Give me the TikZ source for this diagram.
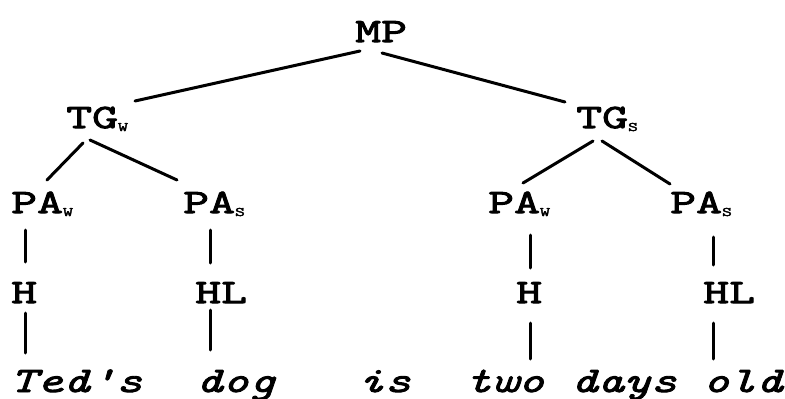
\documentclass[tikz,border=0pt]{standalone}
\usepackage{fontspec}
\newfontfamily\labfont[FakeStretch=1.48,FakeBold=3]{Latin Modern Mono}
\newfontfamily\wrdfont[FakeStretch=1.40,FakeBold=2.5]{Latin Modern Mono}
\newcommand{\subW}{\raisebox{-3pt}{\fontsize{13}{13}\selectfont W}}
\newcommand{\subS}{\raisebox{-3pt}{\fontsize{13}{13}\selectfont S}}
\tikzset{
  lab/.style={anchor=base west, inner sep=0pt, font=\labfont\fontsize{34}{34}\selectfont},
  wrd/.style={anchor=base west, inner sep=0pt, font=\wrdfont\itshape\fontsize{36}{36}\selectfont},
  edge/.style={line width=3pt, line cap=round}
}
\begin{document}
\begin{tikzpicture}[x=1pt,y=-1pt]
\useasboundingbox (0,0) rectangle (785,399);
% labels
\node[lab] (MP)   at (355,42)  {MP};
\node[lab] (TGw)  at (66,128)  {TG\subW};
\node[lab] (TGs)  at (576,128) {TG\subS};
\node[lab] (PAw1) at (11,213)  {PA\subW};
\node[lab] (PAs1) at (183,213) {PA\subS};
\node[lab] (PAw2) at (488,213) {PA\subW};
\node[lab] (PAs2) at (670,213) {PA\subS};
\node[lab] (H1)   at (11,303)  {H};
\node[lab] (HL1)  at (195,303) {HL};
\node[lab] (H2)   at (516,303) {H};
\node[lab] (HL2)  at (703,303) {HL};
% words
\node[wrd] (w1) at (10,392)  {Ted's};
\node[wrd] (w2) at (196,392) {dog};
\node[wrd] (w3) at (358,392) {is};
\node[wrd] (w4) at (465,392) {two};
\node[wrd] (w5) at (571,392) {days};
\node[wrd] (w6) at (703,392) {old};
% tree edges
\draw[edge] ([shift={(5,9)}]MP.base west) -- ([shift={(69,-27)}]TGw.base west);
\draw[edge] ([shift={(27,11)}]MP.base west) -- ([shift={(-11,-26)}]TGs.base west);
\draw[edge] ([shift={(17,15)}]TGw.base west) -- ([shift={(36,-33)}]PAw1.base west);
\draw[edge] ([shift={(24,12)}]TGw.base west) -- ([shift={(-6,-33)}]PAs1.base west);
\draw[edge] ([shift={(17,13)}]TGs.base west) -- ([shift={(35,-30)}]PAw2.base west);
\draw[edge] ([shift={(26,13)}]TGs.base west) -- ([shift={(0,-29)}]PAs2.base west);
% vertical edges
\draw[edge] ([shift={(14,17)}]PAw1.base west) -- ([shift={(14,-41)}]H1.base west);
\draw[edge] ([shift={(14,10)}]H1.base west) -- ([shift={(15,-39)}]w1.base west);
\draw[edge] ([shift={(27,17)}]PAs1.base west) -- ([shift={(15,-40)}]HL1.base west);
\draw[edge] ([shift={(15,7)}]HL1.base west) -- ([shift={(14,-42)}]w2.base west);
\draw[edge] ([shift={(42,22)}]PAw2.base west) -- ([shift={(14,-35)}]H2.base west);
\draw[edge] ([shift={(14,20)}]H2.base west) -- ([shift={(65,-33)}]w4.base west);
\draw[edge] ([shift={(43,24)}]PAs2.base west) -- ([shift={(10,-38)}]HL2.base west);
\draw[edge] ([shift={(10,20)}]HL2.base west) -- ([shift={(10,-33)}]w6.base west);
\end{tikzpicture}
\end{document}
